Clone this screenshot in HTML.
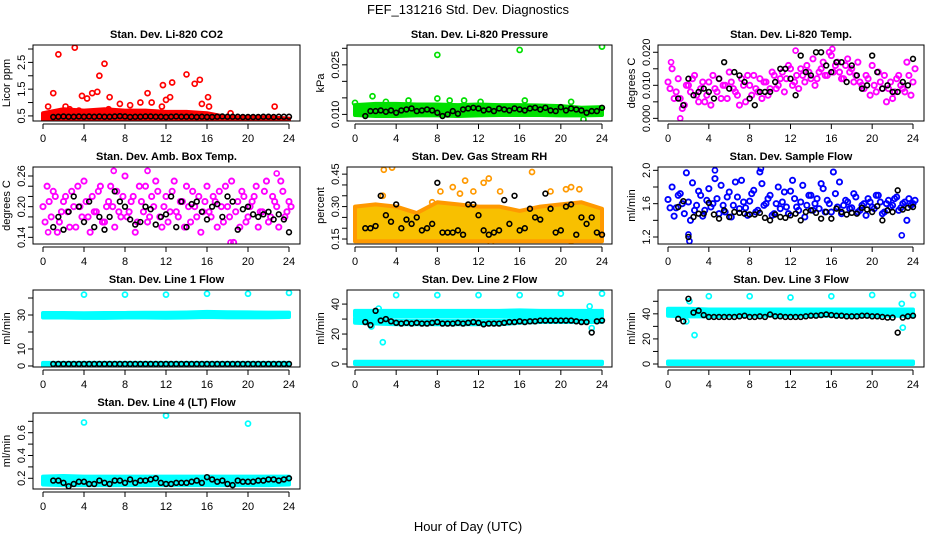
<!DOCTYPE html>
<html><head><meta charset="utf-8"><style>
html,body{margin:0;padding:0;background:#fff;}
svg{display:block;font-family:"Liberation Sans",sans-serif;}
</style></head><body>
<svg id="chart" width="936" height="540" viewBox="0 0 936 540" xmlns="http://www.w3.org/2000/svg">
<text x="468" y="14" text-anchor="middle" font-size="13">FEF_131216  Std. Dev. Diagnostics</text>
<text x="468" y="531" text-anchor="middle" font-size="13">Hour of Day (UTC)</text>
</svg>
<script>
const hourTicks = [0,4,8,12,16,20,24];
// black series sampled at half hours 1.0 .. 24.0
const co2Black = [0.46,0.47,0.48,0.47,0.47,0.48,0.47,0.48,0.47,0.48,0.47,0.47,0.48,0.49,0.48,0.46,0.47,0.47,0.48,0.48,0.47,0.47,0.46,0.47,0.48,0.47,0.47,0.47,0.46,0.47,0.46,0.46,0.47,0.48,0.47,0.47,0.47,0.46,0.46,0.46,0.46,0.47,0.47,0.46,0.47,0.47,0.47];
const co2BandLo = [0.33,0.33,0.33,0.33,0.33,0.33,0.33,0.33,0.33,0.33,0.33,0.33,0.33];
const co2BandHi = [0.6,0.75,0.7,0.75,0.7,0.7,0.65,0.65,0.6,0.45,0.45,0.45,0.4];
const co2Outliers = [[0.5,0.85],[1.0,1.35],[1.5,2.8],[2.2,0.85],[3.1,3.05],[3.8,1.25],[4.3,1.15],[4.8,1.35],[5.3,1.4],[5.5,2.0],[6.0,2.45],[6.5,1.2],[7.5,0.95],[9.5,1.0],[10.2,1.35],[10.6,1.0],[11.7,1.65],[12.0,1.1],[12.6,1.75],[12.4,1.2],[14.0,2.05],[14.8,1.7],[15.3,1.85],[15.5,0.95],[16.1,1.2],[16.2,0.85],[18.3,0.6],[22.6,0.85],[1.3,0.6],[3.5,0.7],[8.5,0.9],[11.6,0.85],[6.4,0.75],[2.6,0.75]];

const presBlack = [0.0095,0.011,0.011,0.0112,0.0108,0.0112,0.0105,0.0112,0.0115,0.0118,0.011,0.0112,0.0115,0.0112,0.0105,0.0095,0.01,0.011,0.0102,0.0115,0.0118,0.012,0.0118,0.0112,0.0115,0.011,0.0118,0.0115,0.0112,0.0118,0.0115,0.0112,0.0118,0.012,0.0115,0.012,0.0112,0.011,0.0122,0.0112,0.0118,0.0115,0.0112,0.0105,0.011,0.011,0.012];
const presBandLo = [0.0098,0.0095,0.0095,0.0097,0.0097,0.0095,0.0097,0.0098,0.0098,0.0098,0.0097,0.0097,0.0098];
const presBandHi = [0.0128,0.0132,0.0132,0.013,0.013,0.0128,0.013,0.0128,0.0128,0.0127,0.0125,0.012,0.0122];
const presOutliers = [[0,0.0135],[1.7,0.0155],[8,0.028],[8,0.0148],[16,0.0295],[24,0.0305],[9.2,0.0142],[5.2,0.0142],[10.6,0.0142],[21,0.0138],[22.2,0.0085],[16.5,0.0142],[3,0.0138],[12.2,0.0138]];

// scatter series sampled every 0.4 h from 0 (A) and from 0.2 (B)
const tempA = [0.011,0.015,0.008,0.006,0.004,0.010,0.012,0.007,0.009,0.005,0.011,0.013,0.008,0.006,0.010,0.014,0.009,0.007,0.012,0.005,0.010,0.013,0.008,0.006,0.011,0.009,0.013,0.010,0.014,0.012,0.015,0.011,0.009,0.013,0.016,0.012,0.010,0.014,0.017,0.013,0.019,0.016,0.014,0.012,0.018,0.015,0.013,0.011,0.009,0.012,0.016,0.008,0.011,0.013,0.009,0.006,0.012,0.010,0.008,0.013,0.011];
const tempB = [0.009,0.006,0.012,0.003,0.010,0.008,0.013,0.005,0.011,0.007,0.004,0.009,0.012,0.010,0.006,0.011,0.008,0.004,0.010,0.013,0.007,0.009,0.012,0.011,0.007,0.014,0.009,0.012,0.008,0.016,0.010,0.013,0.015,0.011,0.014,0.018,0.012,0.015,0.013,0.020,0.014,0.017,0.012,0.016,0.014,0.011,0.017,0.010,0.013,0.007,0.010,0.014,0.009,0.005,0.011,0.008,0.013,0.009,0.017,0.007,0.015];
const tempBlack = [0.006,0.004,0.012,0.007,0.008,0.009,0.008,0.006,0.012,0.017,0.009,0.014,0.013,0.011,0.006,0.004,0.008,0.008,0.008,0.011,0.015,0.015,0.012,0.007,0.019,0.014,0.013,0.020,0.020,0.016,0.014,0.017,0.017,0.011,0.016,0.013,0.009,0.010,0.019,0.014,0.009,0.010,0.008,0.008,0.011,0.010,0.018];
const tempOutliers = [[1.2,0.000],[0.3,0.017],[16.1,0.021],[12.5,0.0205]];

const boxA = [0.20,0.24,0.18,0.22,0.17,0.21,0.19,0.23,0.16,0.20,0.25,0.18,0.22,0.19,0.24,0.17,0.21,0.20,0.23,0.18,0.26,0.19,0.22,0.17,0.21,0.24,0.18,0.20,0.23,0.16,0.22,0.19,0.25,0.18,0.21,0.24,0.17,0.20,0.22,0.19,0.24,0.18,0.21,0.23,0.17,0.20,0.25,0.19,0.16,0.22,0.18,0.21,0.24,0.19,0.23,0.17,0.22,0.20,0.25,0.18,0.21];
const boxB = [0.17,0.21,0.23,0.15,0.19,0.22,0.16,0.20,0.24,0.18,0.21,0.15,0.19,0.23,0.17,0.20,0.24,0.16,0.19,0.22,0.18,0.21,0.15,0.24,0.19,0.17,0.22,0.25,0.18,0.20,0.17,0.23,0.19,0.21,0.16,0.20,0.23,0.18,0.15,0.21,0.19,0.22,0.16,0.20,0.24,0.18,0.13,0.21,0.23,0.17,0.20,0.22,0.16,0.19,0.25,0.18,0.21,0.16,0.23,0.19,0.20];
const boxBlack = [0.16,0.18,0.155,0.19,0.22,0.20,0.17,0.21,0.16,0.18,0.155,0.18,0.23,0.21,0.20,0.175,0.165,0.17,0.20,0.195,0.165,0.18,0.185,0.22,0.16,0.21,0.16,0.205,0.21,0.19,0.175,0.20,0.205,0.18,0.22,0.21,0.155,0.195,0.20,0.185,0.18,0.185,0.19,0.175,0.185,0.175,0.15];
const boxOutliers = [[6.9,0.27],[10.2,0.27],[18.3,0.13],[22.8,0.265],[0.5,0.15]];

const rhBlack = [0.20,0.20,0.21,0.35,0.26,0.23,0.31,0.20,0.24,0.22,0.25,0.19,0.20,0.22,0.41,0.18,0.18,0.18,0.19,0.17,0.31,0.31,0.26,0.19,0.17,0.18,0.19,0.33,0.22,0.35,0.19,0.20,0.29,0.25,0.24,0.36,0.29,0.18,0.19,0.30,0.31,0.17,0.25,0.22,0.25,0.18,0.17];
const rhBandLo = [0.14,0.14,0.14,0.14,0.14,0.14,0.14,0.14,0.14,0.14,0.14,0.14,0.14];
const rhBandHi = [0.30,0.31,0.30,0.27,0.32,0.31,0.30,0.30,0.28,0.30,0.31,0.32,0.29];
const rhOutliers = [[2.7,0.35],[3.6,0.48],[7.5,0.32],[8.3,0.37],[9.5,0.39],[10.2,0.36],[10.7,0.42],[11.5,0.37],[12.5,0.41],[13.0,0.43],[14.1,0.37],[17.2,0.46],[19.0,0.37],[20.5,0.38],[21.0,0.39],[21.8,0.38],[13.2,0.13],[21,0.12],[2.8,0.47]];

const flowA = [1.65,1.80,1.55,1.72,1.48,1.62,1.85,1.58,1.70,1.52,1.78,1.60,1.66,1.82,1.50,1.74,1.58,1.68,1.88,1.55,1.63,1.76,1.52,1.84,1.60,1.70,1.48,1.80,1.62,1.56,1.75,1.66,1.52,1.82,1.58,1.70,1.60,1.54,1.78,1.64,1.50,1.72,1.86,1.58,1.62,1.55,1.68,1.52,1.60,1.66,1.56,1.70,1.62,1.50,1.64,1.58,1.68,1.55,1.62,1.66,1.60];
const flowB = [1.55,1.45,1.70,1.60,1.97,1.40,1.52,1.75,1.45,1.64,1.56,1.90,1.48,1.58,1.68,1.44,1.86,1.54,1.62,1.46,1.72,1.50,1.98,1.58,1.66,1.46,1.60,1.54,1.74,1.48,1.88,1.56,1.62,1.44,1.70,1.52,1.66,1.84,1.50,1.60,1.98,1.56,1.48,1.64,1.54,1.72,1.50,1.58,1.46,1.62,1.54,1.70,1.48,1.60,1.56,1.66,1.52,1.60,1.40,1.58,1.64];
const flowBlack = [1.56,1.63,1.20,1.44,1.48,1.48,1.61,1.47,1.42,1.52,1.44,1.50,1.49,1.48,1.47,1.47,1.49,1.43,1.40,1.47,1.44,1.43,1.46,1.48,1.40,1.50,1.52,1.49,1.42,1.50,1.42,1.54,1.50,1.47,1.49,1.48,1.55,1.53,1.50,1.57,1.40,1.52,1.50,1.76,1.53,1.55,1.56];
const flowOutliers = [[2.0,1.23],[2.1,1.15],[22.9,1.22],[9.1,2.02],[4.6,2.0]];

const l1Black = [1.2,1.2,1.2,1.2,1.2,1.2,1.2,1.2,1.2,1.2,1.2,1.2,1.2,1.2,1.2,1.2,1.2,1.2,1.2,1.2,1.2,1.2,1.2,1.2,1.2,1.2,1.2,1.2,1.2,1.2,1.2,1.2,1.2,1.2,1.2,1.2,1.2,1.2,1.2,1.2,1.2,1.2,1.2,1.2,1.2,1.2,1.2];
const l1BandLo = [28.5,28.5,28.3,28.3,28.5,28.5,28.4,28.5,28.8,28.6,28.6,28.6,28.8];
const l1BandHi = [31.2,31.2,31.0,31.2,31.2,31.3,31.3,31.5,31.8,31.6,31.5,31.4,31.4];
const l1LowLo = [0,0,0,0,0,0,0,0,0,0,0,0,0];
const l1LowHi = [1.8,1.8,1.8,1.8,1.8,1.8,1.8,1.8,1.8,1.8,1.8,1.8,1.8];
const l1Outliers = [[4,42],[8,42],[12,42],[16,42.5],[20,42.5],[24,43]];

const l2Black = [28,26,35.5,29,30,28.5,27.5,27,27.5,27,27.5,27,27,27.5,28,27,27,27,27.5,27,27.5,28,27.5,26.5,27,27,27,27.5,28,28,28.5,28,28.5,28.5,29,29,29,29,29,29,29,28.5,28,28,21,28.5,29];
const l2BandLo = [32,32,32,32,32,32,32,32,32,32,32,32,32];
const l2BandHi = [35.5,35.5,35.5,35.5,35.5,35.5,35.5,35.5,35.8,35.5,35.5,35.5,35.5];
const l2MidLo = [27.5,27,26.5,26.5,26.5,26.5,26.5,26.5,27.5,28,28,28,28];
const l2MidHi = [30.5,29.5,29,29,29,29,29,29,29.5,30,30.5,30,30.5];
const l2LowLo = [0,0,0,0,0,0,0,0,0,0,0,0,0];
const l2LowHi = [1.5,1.5,1.5,1.5,1.5,1.5,1.5,1.5,1.5,1.5,1.5,1.5,1.5];
const l2Outliers = [[4,46],[8,46],[12,46],[16,46],[20,47],[24,47],[2.7,14.5],[2.3,37],[22.8,38.5],[23,24],[1.6,25],[2.0,29]];

const l3Black = [36,34,52,41,42.5,39,37.5,37.5,37.5,37.5,37.5,37.5,38,38.5,37.5,37.5,38,37.5,39.5,38,38,37.5,37.5,37.5,37.5,38,38.5,38.5,39,39.5,39,38.5,38.5,38,38,38,38.5,38.5,38,38,37.5,37,37,25,37,38,38.5];
const l3BandLo = [38.5,38,38,38.5,38.5,38.5,38.5,38.5,38.5,38.5,38.5,38.5,38.5];
const l3BandHi = [44,44,43.5,43.5,43.5,43.5,43.5,43.5,43.5,43.5,43.5,43.5,43.5];
const l3LowLo = [0,0,0,0,0,0,0,0,0,0,0,0,0];
const l3LowHi = [2,2,2,2,2,2,2,2,2,2,2,2,2];
const l3Outliers = [[4,54],[8,54],[12,53],[16,54],[20,55],[24,55],[2.6,23],[2.1,50],[22.9,48],[23,29],[1.8,34]];

const l4Black = [0.18,0.18,0.16,0.13,0.15,0.17,0.17,0.15,0.15,0.18,0.16,0.15,0.18,0.18,0.16,0.19,0.16,0.18,0.18,0.19,0.20,0.16,0.15,0.15,0.16,0.16,0.16,0.17,0.18,0.16,0.21,0.19,0.17,0.18,0.15,0.14,0.18,0.17,0.17,0.17,0.18,0.18,0.19,0.19,0.18,0.19,0.20];
const l4BandLo = [0.145,0.14,0.14,0.14,0.14,0.14,0.14,0.14,0.14,0.14,0.14,0.14,0.145];
const l4BandHi = [0.215,0.22,0.215,0.215,0.215,0.215,0.215,0.215,0.215,0.215,0.215,0.215,0.215];
const l4Outliers = [[4,0.69],[12,0.75],[20,0.68]];

const NS = 'http://www.w3.org/2000/svg';
const svg = document.getElementById('chart');
function mk(tag, attrs, parent){ const e=document.createElementNS(NS,tag); for(const k in attrs) e.setAttribute(k,attrs[k]); (parent||svg).appendChild(e); return e; }

const cols = [{l:33,r:300,x0:43,x24:289},{l:347,r:612,x0:355,x24:602},{l:658,r:924,x0:668,x24:913}];
const rows = [{t:45,b:121},{t:167,b:244},{t:290,b:367},{t:413,b:489}];

const panels = [
 {name:'co2',title:'Stan. Dev. Li-820 CO2',ylab:'Licor ppm',col:0,row:0,ymin:0.31,ymax:3.15,ticks:[0.5,1,1.5,2,2.5,3],labels:['0.5','','1.5','','2.5',''],color:'#ff0000',bands:[[co2BandLo,co2BandHi]],scat:[],out:co2Outliers,black:co2Black},
 {name:'pressure',title:'Stan. Dev. Li-820 Pressure',ylab:'kPa',col:1,row:0,ymin:0.008,ymax:0.031,ticks:[0.010,0.015,0.020,0.025,0.030],labels:['0.010','','','0.025',''],color:'#00e000',bands:[[presBandLo,presBandHi]],scat:[],out:presOutliers,black:presBlack},
 {name:'li-temp',title:'Stan. Dev. Li-820 Temp.',ylab:'degrees C',col:2,row:0,ymin:-0.0008,ymax:0.0222,ticks:[0,0.005,0.010,0.015,0.020],labels:['0.000','','0.010','','0.020'],color:'#ff00ff',bands:[],scat:[tempA,tempB],out:tempOutliers,black:tempBlack},
 {name:'box-temp',title:'Stan. Dev. Amb. Box Temp.',ylab:'degrees C',col:0,row:1,ymin:0.127,ymax:0.2776,ticks:[0.14,0.16,0.18,0.20,0.22,0.24,0.26],labels:['0.14','','','0.20','','','0.26'],color:'#ff00ff',bands:[],scat:[boxA,boxB],out:boxOutliers,black:boxBlack},
 {name:'rh',title:'Stan. Dev. Gas Stream RH',ylab:'percent',col:1,row:1,ymin:0.127,ymax:0.483,ticks:[0.15,0.20,0.25,0.30,0.35,0.40,0.45],labels:['0.15','','','0.30','','','0.45'],color:'#ff9900',bandFill:'#f8c000',bands:[[rhBandLo,rhBandHi]],scat:[],out:rhOutliers,black:rhBlack},
 {name:'sample-flow',title:'Stan. Dev. Sample Flow',ylab:'ml/min',col:2,row:1,ymin:1.116,ymax:2.04,ticks:[1.2,1.4,1.6,1.8,2.0],labels:['1.2','','1.6','','2.0'],color:'#0000ff',bands:[],scat:[flowA,flowB],out:flowOutliers,black:flowBlack},
 {name:'line1-flow',title:'Stan. Dev. Line 1 Flow',ylab:'ml/min',col:0,row:2,ymin:-0.6,ymax:44.7,ticks:[0,10,20,30,40],labels:['0','10','','30',''],color:'#00ffff',bands:[[l1BandLo,l1BandHi],[l1LowLo,l1LowHi]],scat:[],out:l1Outliers,black:l1Black},
 {name:'line2-flow',title:'Stan. Dev. Line 2 Flow',ylab:'ml/min',col:1,row:2,ymin:-2,ymax:49.4,ticks:[0,10,20,30,40],labels:['0','','20','','40'],color:'#00ffff',bands:[[l2BandLo,l2BandHi],[l2MidLo,l2MidHi],[l2LowLo,l2LowHi]],scat:[],out:l2Outliers,black:l2Black},
 {name:'line3-flow',title:'Stan. Dev. Line 3 Flow',ylab:'ml/min',col:2,row:2,ymin:-2.4,ymax:59,ticks:[0,10,20,30,40,50],labels:['0','','20','','40',''],color:'#00ffff',bands:[[l3BandLo,l3BandHi],[l3LowLo,l3LowHi]],scat:[],out:l3Outliers,black:l3Black},
 {name:'line4-flow',title:'Stan. Dev. Line 4 (LT) Flow',ylab:'ml/min',col:0,row:3,ymin:0.106,ymax:0.773,ticks:[0.2,0.3,0.4,0.5,0.6,0.7],labels:['0.2','','0.4','','0.6',''],color:'#00ffff',bands:[[l4BandLo,l4BandHi]],scat:[],out:l4Outliers,black:l4Black}
];

panels.forEach(p=>{
  const c=cols[p.col], r=rows[p.row];
  const xs = h => c.x0 + (c.x24-c.x0)*h/24;
  const ys = v => r.b - (r.b-r.t)*(v-p.ymin)/(p.ymax-p.ymin);
  const g = mk('g',{});
  
  
  const clip = mk('clipPath',{id:'clip-'+p.name},g);
  mk('rect',{x:c.l,y:r.t,width:c.r-c.l,height:r.b-r.t},clip);
  const plot = mk('g',{'clip-path':'url(#clip-'+p.name+')'},g);
  p.bands.forEach(([lo,hi])=>{
    const pts=[];
    lo.forEach((v,i)=>pts.push(xs(i*2)+','+ys(v)));
    for(let i=hi.length-1;i>=0;i--) pts.push(xs(i*2)+','+ys(hi[i]));
    const poly = mk('polygon',{points:pts.join(' '),fill:p.bandFill||p.color,stroke:p.color,'stroke-width':4,'stroke-linejoin':'round'},plot);
    
    
  });
  p.scat.forEach((arr,k)=>{
    arr.forEach((v,i)=>{
      const ci = mk('circle',{cx:xs(i*0.4+k*0.2),cy:ys(v),r:2.6,fill:'none',stroke:p.color,'stroke-width':1.9},plot);
      
      
    });
  });
  p.out.forEach(([h,v])=>{
    const ci = mk('circle',{cx:xs(h),cy:ys(v),r:2.5,fill:'none',stroke:p.color,'stroke-width':1.7},plot);
    
    
  });
  p.black.forEach((v,i)=>{
    const ci = mk('circle',{cx:xs(1+i*0.5),cy:ys(v),r:2.4,fill:'none',stroke:'#000','stroke-width':1.6},plot);
    
    
  });
  const fr = mk('rect',{x:c.l,y:r.t,width:c.r-c.l,height:r.b-r.t,fill:'none',stroke:'#000','stroke-width':1},g);
  
  
  const tt = mk('text',{x:(c.l+c.r)/2,y:r.t-7,'text-anchor':'middle','font-size':11,'font-weight':'bold'},g);
  tt.textContent = p.title;
  
  
  mk('line',{x1:xs(0),x2:xs(24),y1:r.b+3,y2:r.b+3,stroke:'#000'},g);
  hourTicks.forEach(h=>{
    mk('line',{x1:xs(h),x2:xs(h),y1:r.b+3,y2:r.b+8,stroke:'#000'},g);
    const t=mk('text',{x:xs(h),y:r.b+21,'text-anchor':'middle','font-size':11},g);
    t.textContent=h;
    
    
  });
  const yl=c.l;
  mk('line',{x1:yl,x2:yl,y1:ys(p.ticks[0]),y2:ys(p.ticks[p.ticks.length-1]),stroke:'#000'},g);
  p.ticks.forEach((v,i)=>{
    mk('line',{x1:yl-5,x2:yl,y1:ys(v),y2:ys(v),stroke:'#000'},g);
    if(p.labels[i]){
      const t=mk('text',{x:0,y:0,'text-anchor':'middle','font-size':11,transform:'translate('+(yl-8)+','+ys(v)+') rotate(-90)'},g);
      t.textContent=p.labels[i];
      
      
    }
  });
  const yt=mk('text',{x:0,y:0,'text-anchor':'middle','font-size':11,transform:'translate('+(yl-23)+','+((r.t+r.b)/2)+') rotate(-90)'},g);
  yt.textContent=p.ylab;
  
  
});
</script>
</body></html>
